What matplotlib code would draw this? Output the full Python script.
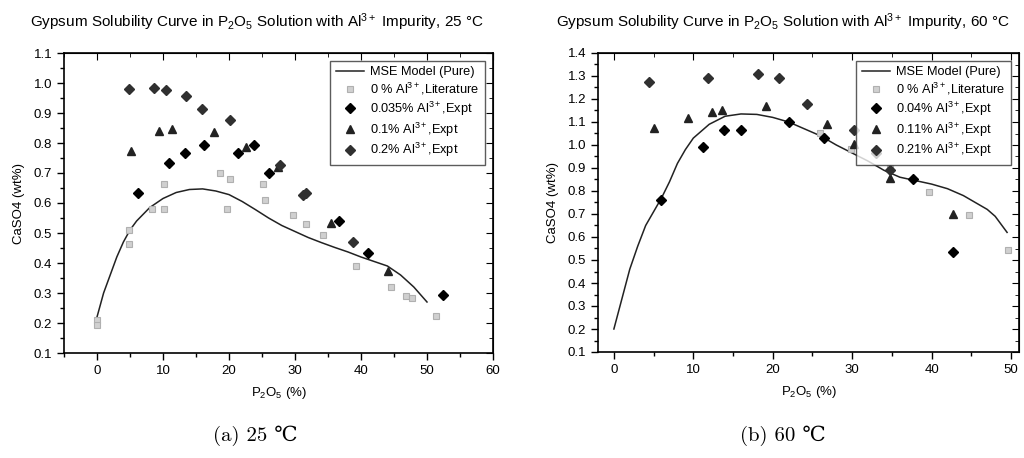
import matplotlib.pyplot as plt
from matplotlib.ticker import MultipleLocator
import numpy as np

plt.rcParams['font.family'] = ['Liberation Sans', 'DejaVu Sans']
plt.rcParams['mathtext.fontset'] = 'custom'
plt.rcParams['mathtext.rm'] = 'Liberation Sans'
plt.rcParams['mathtext.it'] = 'Liberation Sans:italic'
plt.rcParams['mathtext.bf'] = 'Liberation Sans:bold'

# ---- 25 C data ----
model25_x = [0, 1, 2, 3, 4, 5, 6, 8, 10, 12, 14, 16, 18, 20, 22, 24, 26, 28, 30,
             32, 34, 36, 38, 40, 42, 44, 46, 48, 50]
model25_y = [0.22, 0.30, 0.36, 0.42, 0.47, 0.51, 0.54, 0.585, 0.615, 0.635, 0.645,
             0.647, 0.64, 0.628, 0.605, 0.578, 0.55, 0.525, 0.505, 0.485, 0.468,
             0.452, 0.437, 0.42, 0.405, 0.39, 0.36, 0.32, 0.27]
lit25_x = [0, 0, 4.8, 4.8, 8.3, 10.2, 10.2, 18.7, 20.1, 19.7, 25.2, 25.4, 29.7,
           31.6, 34.2, 39.3, 44.5, 46.8, 47.7, 51.3]
lit25_y = [0.21, 0.193, 0.51, 0.463, 0.581, 0.581, 0.662, 0.701, 0.68, 0.581,
           0.663, 0.611, 0.561, 0.53, 0.493, 0.391, 0.321, 0.29, 0.282, 0.223]
a035_x = [6.2, 10.9, 13.4, 16.2, 21.4, 23.8, 26.0, 36.7, 41.1, 52.4]
a035_y = [0.633, 0.732, 0.767, 0.792, 0.767, 0.793, 0.699, 0.540, 0.434, 0.293]
a10_x = [5.1, 9.4, 11.4, 17.8, 22.6, 27.4, 35.5, 44.1]
a10_y = [0.772, 0.841, 0.848, 0.838, 0.788, 0.721, 0.534, 0.372]
a20_x = [4.9, 8.6, 10.5, 13.5, 15.85, 20.1, 27.7, 31.2, 31.6, 38.8]
a20_y = [0.979, 0.983, 0.976, 0.956, 0.912, 0.877, 0.727, 0.627, 0.632, 0.469]

# ---- 60 C data ----
model60_x = [0, 1, 2, 3, 4, 5, 6, 7, 8, 9, 10, 12, 14, 16, 18, 20, 22, 24, 26,
             28, 30, 32, 34, 36, 38, 40, 42, 44, 46, 47, 48, 49.5]
model60_y = [0.20, 0.33, 0.46, 0.56, 0.65, 0.71, 0.77, 0.84, 0.92, 0.98, 1.03,
             1.09, 1.125, 1.135, 1.133, 1.12, 1.10, 1.07, 1.04, 1.0, 0.965, 0.93,
             0.89, 0.86, 0.845, 0.83, 0.81, 0.78, 0.74, 0.72, 0.69, 0.62]
lit60_x = [25.9, 29.8, 34.8, 39.7, 44.7, 49.6]
lit60_y = [1.053, 0.983, 0.899, 0.797, 0.696, 0.543]
a04_x = [5.9, 11.2, 13.8, 16.0, 22.1, 26.4, 33.0, 37.7, 42.7]
a04_y = [0.761, 0.993, 1.065, 1.065, 1.099, 1.032, 0.967, 0.853, 0.536]
a11_x = [5.1, 9.3, 12.3, 13.6, 19.2, 26.8, 30.2, 34.8, 42.7]
a11_y = [1.073, 1.119, 1.142, 1.154, 1.17, 1.091, 1.004, 0.855, 0.70]
a21_x = [4.4, 11.8, 18.1, 20.8, 24.3, 30.2, 34.8]
a21_y = [1.273, 1.29, 1.307, 1.293, 1.177, 1.065, 0.891]

fig = plt.figure(figsize=(10.24, 4.58), dpi=100)
W, H = 1024, 458


def make_axes(px_left, px_width, px_top, px_bottom):
    return fig.add_axes([px_left / W, 1 - px_bottom / H, px_width / W, (px_bottom - px_top) / H])


def style_axes(ax, xlim, ylim, ymaj):
    ax.set_xlim(*xlim)
    ax.set_ylim(*ylim)
    ax.xaxis.set_major_locator(MultipleLocator(10))
    ax.xaxis.set_minor_locator(MultipleLocator(5))
    ax.yaxis.set_major_locator(MultipleLocator(ymaj))
    ax.yaxis.set_minor_locator(MultipleLocator(ymaj / 2))
    ax.yaxis.set_major_formatter(plt.FormatStrFormatter('%.1f'))
    ax.tick_params(which='both', direction='out', labelsize=9.5, width=1)
    ax.tick_params(which='major', length=5)
    ax.tick_params(which='minor', length=3)
    for s in ax.spines.values():
        s.set_linewidth(1.2)
    top = ax.secondary_xaxis('top')
    top.xaxis.set_major_locator(MultipleLocator(10))
    top.xaxis.set_minor_locator(MultipleLocator(5))
    top.tick_params(which='both', direction='in', labeltop=False)
    top.tick_params(which='major', length=5)
    top.tick_params(which='minor', length=3)
    right = ax.secondary_yaxis('right')
    right.yaxis.set_major_locator(MultipleLocator(ymaj))
    right.yaxis.set_minor_locator(MultipleLocator(ymaj / 2))
    right.tick_params(which='both', direction='in', labelright=False)
    right.tick_params(which='major', length=5)
    right.tick_params(which='minor', length=3)
    ax.set_xlabel('P$_2$O$_5$ (%)', fontsize=9.5, labelpad=6)
    ax.set_ylabel('CaSO4 (wt%)', fontsize=9.5, labelpad=6)


def draw(ax, mx, my, lx, ly, dx, dy, tx, ty, gx, gy, labels):
    ax.plot(mx, my, color='#222222', lw=1.1, label=labels[0])
    ax.plot(lx, ly, ls='none', marker='s', ms=4.5, mfc='#d0d0d0', mec='#b0b0b0',
            mew=0.8, label=labels[1])
    ax.plot(dx, dy, ls='none', marker='D', ms=5.5, color='black', label=labels[2])
    ax.plot(tx, ty, ls='none', marker='^', ms=6, color='#222222', label=labels[3])
    ax.plot(gx, gy, ls='none', marker='D', ms=5.5, color='#303030', label=labels[4])
    leg = ax.legend(loc='upper right', fontsize=9.2, frameon=True, fancybox=False,
                    edgecolor='#333333', handlelength=2.2, handletextpad=0.5,
                    borderpad=0.45, labelspacing=0.2, borderaxespad=0.6)
    leg.get_frame().set_linewidth(1.0)


ax1 = make_axes(64, 429, 53, 353)
style_axes(ax1, (-5, 60), (0.1, 1.1), 0.1)
draw(ax1, model25_x, model25_y, lit25_x, lit25_y, a035_x, a035_y, a10_x, a10_y,
     a20_x, a20_y,
     ['MSE Model (Pure)', '0 % Al$^{3+}$,Literature', '0.035% Al$^{3+}$,Expt',
      '0.1% Al$^{3+}$,Expt', '0.2% Al$^{3+}$,Expt'])

ax2 = make_axes(598, 421, 53, 352)
style_axes(ax2, (-2, 51), (0.1, 1.4), 0.1)
draw(ax2, model60_x, model60_y, lit60_x, lit60_y, a04_x, a04_y, a11_x, a11_y,
     a21_x, a21_y,
     ['MSE Model (Pure)', '0 % Al$^{3+}$,Literature', '0.04% Al$^{3+}$,Expt',
      '0.11% Al$^{3+}$,Expt', '0.21% Al$^{3+}$,Expt'])

fig.text(257 / W, 1 - 22 / H,
         'Gypsum Solubility Curve in P$_2$O$_5$ Solution with Al$^{3+}$ Impurity, 25 \u00b0C',
         ha='center', va='center', fontsize=11)
fig.text(783 / W, 1 - 22 / H,
         'Gypsum Solubility Curve in P$_2$O$_5$ Solution with Al$^{3+}$ Impurity, 60 \u00b0C',
         ha='center', va='center', fontsize=11)

fig.text(255 / W, 1 - 436 / H, '(a) 25 \u2103', ha='center', va='center', fontsize=15,
         family=['cmr10', 'DejaVu Serif'])
fig.text(783 / W, 1 - 436 / H, '(b) 60 \u2103', ha='center', va='center', fontsize=15,
         family=['cmr10', 'DejaVu Serif'])

fig.savefig('out.png', dpi=100)
